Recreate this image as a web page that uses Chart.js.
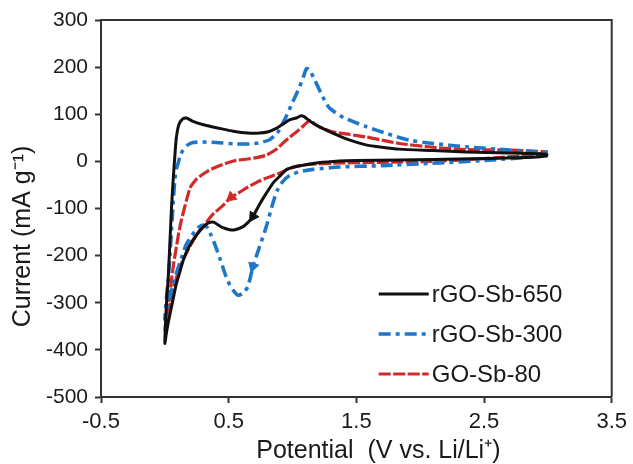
<!DOCTYPE html>
<html><head><meta charset="utf-8">
<script src="https://cdn.jsdelivr.net/npm/chart.js@4.4.1/dist/chart.umd.min.js"></script>
<style>html,body{margin:0;padding:0;background:#fff}canvas{display:block}</style>
</head><body>
<canvas id="c" width="633" height="464"></canvas>
<script>
// ---- data ----
const xTicks = [-0.5, 0.5, 1.5, 2.5, 3.5];
const yTicks = [-500, -400, -300, -200, -100, 0, 100, 200, 300];
const xTitle = 'Potential  (V vs. Li/Li\u207A)';
const yTitle = 'Current (mA g\u207B\u00B9)';
const seriesNames = ['rGO-Sb-650', 'rGO-Sb-300', 'GO-Sb-80'];

// rGO-Sb-650 : cathodic scan 3.0 -> 0 V, then anodic scan 0 -> 3.0 V
const potential650 = [3.0, 2.88, 2.5, 2.1, 1.84, 1.5, 1.367, 1.2, 1.03, 0.95, 0.898, 0.85, 0.794, 0.74, 0.69, 0.65, 0.61, 0.55, 0.508, 0.45, 0.38, 0.338, 0.31, 0.26, 0.195, 0.15, 0.117, 0.09, 0.065, 0.045, 0.026, 0.012, 0.0,
  0.006, 0.015, 0.026, 0.04, 0.052, 0.065, 0.078, 0.09, 0.11, 0.14, 0.17, 0.22, 0.325, 0.43, 0.536, 0.65, 0.742, 0.81, 0.872, 0.93, 0.977, 1.03, 1.068, 1.09, 1.15, 1.22, 1.315, 1.45, 1.575, 1.7, 1.836, 2.1, 2.357, 2.7, 2.98, 3.0];
const current650 = [12, 8.6, 6, 4, 3, 2, 1, -3, -11, -18, -32, -45, -68, -92, -117, -130, -139, -145, -145, -140, -129, -131, -137, -152, -178, -205, -235, -260, -292, -318, -343, -365, -386,
  -340, -290, -250, -170, -100, -40, 10, 50, 78, 90, 92, 85, 76, 70, 64, 60, 60, 63, 70, 80, 88, 92, 97, 95, 83, 72, 60, 45, 35, 30, 26, 23, 20, 18, 15.5, 12];

// rGO-Sb-300
const potential300 = [3.0, 2.88, 2.5, 2.09, 1.7, 1.367, 1.16, 1.055, 0.977, 0.92, 0.88, 0.846, 0.794, 0.742, 0.69, 0.65, 0.61, 0.573, 0.54, 0.508, 0.48, 0.43, 0.39, 0.364, 0.338, 0.31, 0.273, 0.234, 0.17, 0.13, 0.091, 0.065, 0.04, 0.02, 0.0,
  0.013, 0.026, 0.04, 0.052, 0.065, 0.078, 0.091, 0.104, 0.12, 0.143, 0.18, 0.221, 0.3, 0.404, 0.55, 0.664, 0.75, 0.82, 0.88, 0.95, 1.0, 1.055, 1.09, 1.11, 1.133, 1.17, 1.21, 1.25, 1.29, 1.4, 1.575, 1.75, 1.914, 2.1, 2.357, 2.7, 2.98, 3.0];
const current300 = [18, 10, 2, -4, -9, -12, -17, -22, -30, -44, -62, -89, -139, -181, -223, -266, -280, -284, -275, -262, -245, -205, -175, -158, -142, -136, -138, -149, -175, -205, -237, -262, -287, -310, -335,
  -290, -252, -200, -146, -90, -40, -15, -4, 12, 24, 35, 40, 41, 40, 37, 37, 40, 46, 60, 95, 125, 158, 183, 197, 194, 175, 152, 130, 113, 93, 74, 58, 45, 38, 31, 24, 18.5, 18];

// GO-Sb-80
const potential80 = [3.0, 2.88, 2.5, 2.096, 1.7, 1.315, 1.16, 1.055, 0.977, 0.898, 0.8, 0.716, 0.64, 0.56, 0.52, 0.45, 0.377, 0.338, 0.3, 0.25, 0.195, 0.15, 0.117, 0.09, 0.065, 0.045, 0.026, 0.01, 0.0,
  0.01, 0.026, 0.04, 0.052, 0.07, 0.091, 0.11, 0.13, 0.17, 0.2, 0.24, 0.273, 0.34, 0.404, 0.48, 0.56, 0.65, 0.72, 0.794, 0.87, 0.95, 1.02, 1.08, 1.12, 1.146, 1.17, 1.22, 1.31, 1.45, 1.575, 1.7, 1.836, 2.1, 2.357, 2.7, 3.0];
const current80 = [20, 13.5, 6, 0, -2, -4, -6, -9, -15, -25, -35, -45, -56, -70, -76, -95, -112, -125, -137, -155, -181, -205, -225, -248, -273, -298, -322, -345, -360,
  -335, -308, -280, -252, -215, -181, -150, -124, -82, -55, -40, -32, -20, -12, -4, 2, 5, 8, 13, 25, 45, 60, 74, 84, 87, 80, 72, 63, 57, 52, 45, 38, 30, 25, 24, 20];

// scan-direction arrows sit on the cathodic branch at these potentials
const arrowAt650 = 0.69;
const arrowAt300 = 0.69;
const arrowAt80 = 0.52;

// ---- chart ----
const FONT = "'Liberation Sans', Arial, sans-serif";
const AXIS = '#333';
const TEXT = '#1a1a1a';

function makeSet(label, V, I, color, width, dash, arrowV) {
  const arrowIdx = V.indexOf(arrowV);
  return {
    label,
    data: V.map((v, i) => ({ x: v, y: I[i] })),
    showLine: true,
    fill: false,
    borderColor: color,
    backgroundColor: color,
    borderWidth: width,
    borderDash: dash,
    borderCapStyle: 'butt',
    tension: 0.22,
    pointStyle: 'triangle',
    pointBackgroundColor: color,
    pointBorderColor: color,
    pointBorderWidth: 1,
    pointRadius: c => (c.dataIndex === arrowIdx ? 6 : 0),
    pointHoverRadius: 0,
    pointRotation: c => {
      if (c.dataIndex !== arrowIdx) return 0;
      const sx = c.chart.scales.x, sy = c.chart.scales.y;
      const a = c.dataset.data[arrowIdx - 1], b = c.dataset.data[arrowIdx + 1];
      const dx = sx.getPixelForValue(b.x) - sx.getPixelForValue(a.x);
      const dy = sy.getPixelForValue(b.y) - sy.getPixelForValue(a.y);
      return Math.atan2(dx, -dy) * 180 / Math.PI;
    }
  };
}

const framePlugin = {
  id: 'frame',
  afterDatasetsDraw(chart) {
    const { ctx, chartArea: a } = chart;
    ctx.save();
    ctx.strokeStyle = AXIS;
    ctx.lineWidth = 2;
    ctx.beginPath();
    ctx.moveTo(a.left, a.top);
    ctx.lineTo(a.right, a.top);
    ctx.lineTo(a.right, a.bottom);
    ctx.stroke();
    ctx.restore();
  }
};

// axis titles (placed as in the reference, slightly off the axis centres)
const axisTitlePlugin = {
  id: 'axisTitles',
  afterDraw(chart) {
    const { ctx, chartArea: a } = chart;
    ctx.save();
    ctx.fillStyle = TEXT;
    ctx.font = '25px ' + FONT;
    ctx.textAlign = 'center';
    ctx.textBaseline = 'middle';
    ctx.fillText(xTitle, (a.left + a.right) / 2 + 22, 451);
    ctx.translate(23, (a.top + a.bottom) / 2 + 28);
    ctx.rotate(-Math.PI / 2);
    ctx.fillText(yTitle, 0, 0);
    ctx.restore();
  }
};

const legendPlugin = {
  id: 'insideLegend',
  afterDraw(chart) {
    const { ctx, chartArea: a } = chart;
    ctx.save();
    chart.data.datasets.forEach((d, i) => {
      const y = a.bottom - 103 + i * 40;
      const x0 = a.right - 233, x1 = a.right - 183;
      ctx.strokeStyle = d.borderColor;
      ctx.lineWidth = d.borderWidth;
      ctx.setLineDash(d.borderDash || []);
      ctx.beginPath();
      ctx.moveTo(x0, y);
      ctx.lineTo(x1, y);
      ctx.stroke();
      ctx.setLineDash([]);
      ctx.fillStyle = TEXT;
      ctx.font = '24px ' + FONT;
      ctx.textBaseline = 'middle';
      ctx.textAlign = 'left';
      ctx.fillText(d.label, x1 + 3, y + 1);
    });
    ctx.restore();
  }
};

new Chart(document.getElementById('c'), {
  type: 'scatter',
  data: {
    datasets: [
      makeSet(seriesNames[0], potential650, current650, '#111111', 3, [], arrowAt650),
      makeSet(seriesNames[1], potential300, current300, '#1f77c9', 3.6, [12, 5, 4, 5], arrowAt300),
      makeSet(seriesNames[2], potential80, current80, '#d22a28', 3.2, [12, 2.5], arrowAt80)
    ]
  },
  options: {
    responsive: false,
    animation: false,
    devicePixelRatio: 1,
    events: [],
    layout: { padding: { top: 20, right: 20, bottom: 0, left: 0 } },
    plugins: { legend: { display: false }, tooltip: { enabled: false } },
    scales: {
      x: {
        type: 'linear',
        min: xTicks[0], max: xTicks[xTicks.length - 1],
        afterBuildTicks: s => { s.ticks = xTicks.map(v => ({ value: v })); },
        afterFit: s => { s.height = 67; },
        grid: { drawOnChartArea: false, drawTicks: true, tickLength: 6, tickColor: AXIS, tickWidth: 2 },
        border: { display: true, color: AXIS, width: 2 },
        ticks: { color: TEXT, font: { family: FONT, size: 22 }, padding: 6, maxRotation: 0,
          callback: v => String(v) },
        title: { display: false, text: xTitle }
      },
      y: {
        type: 'linear',
        min: yTicks[0], max: yTicks[yTicks.length - 1],
        afterBuildTicks: s => { s.ticks = yTicks.map(v => ({ value: v })); },
        afterFit: s => { s.width = 101; },
        grid: { drawOnChartArea: false, drawTicks: true, tickLength: 6, tickColor: AXIS, tickWidth: 2 },
        border: { display: true, color: AXIS, width: 2 },
        ticks: { color: TEXT, font: { family: FONT, size: 21 }, padding: 7,
          callback: v => String(v) },
        title: { display: false, text: yTitle }
      }
    }
  },
  plugins: [framePlugin, axisTitlePlugin, legendPlugin]
});
</script>
</body></html>
